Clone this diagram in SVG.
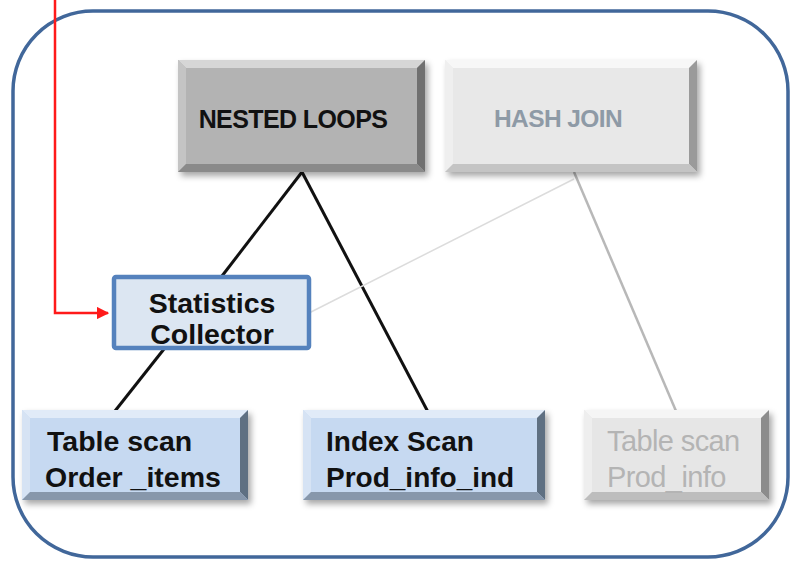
<svg xmlns="http://www.w3.org/2000/svg" width="794" height="562" viewBox="0 0 794 562">
<style>
.t{font-family:"Liberation Sans",Arial,sans-serif;font-weight:bold}
.dk{fill:#111}
.gy{fill:#8e9aa6}
.lg{fill:#b4b4b4;font-weight:normal}
</style>
<defs>
<filter id="sh" x="-10%" y="-10%" width="130%" height="140%">
<feDropShadow dx="3" dy="4" stdDeviation="3" flood-color="#000" flood-opacity="0.35"/>
</filter>
<marker id="ar" viewBox="0 0 10 10" refX="9" refY="5" markerWidth="5" markerHeight="5" orient="auto">
<path d="M0,0 L10,5 L0,10 z" fill="#ff1a1a"/>
</marker>
</defs>
<rect width="794" height="562" fill="#fff"/>
<rect x="13" y="11" width="775" height="546" rx="80" ry="80" fill="none" stroke="#41679a" stroke-width="3.5"/>

<g id="connectors">
<path d="M55,0 V313 H108" fill="none" stroke="#ff1a1a" stroke-width="2.5" marker-end="url(#ar)"/>
<line x1="302" y1="172" x2="222" y2="276" stroke="#111" stroke-width="3"/>
<line x1="302" y1="172" x2="428" y2="412" stroke="#111" stroke-width="3"/>
<line x1="164" y1="349" x2="115" y2="411" stroke="#111" stroke-width="3"/>
<line x1="574" y1="179" x2="309" y2="313" stroke="#dcdcdc" stroke-width="1.5"/>
<line x1="574" y1="172" x2="676" y2="411" stroke="#b8b8b8" stroke-width="2.5"/>
</g>

<g id="nested-loops">
<g filter="url(#sh)">
<rect x="178" y="60" width="247" height="112" fill="#b3b3b3"/>
<polygon points="178,60 425,60 417,68 186,68" fill="#d6d6d6"/>
<polygon points="178,60 186,68 186,164 178,172" fill="#c4c4c4"/>
<polygon points="425,60 425,172 417,164 417,68" fill="#6f6f6f"/>
<polygon points="178,172 425,172 417,164 186,164" fill="#8a8a8a"/>
</g>
<text x="293" y="128" text-anchor="middle" class="t dk" font-size="25" letter-spacing="-0.6">NESTED LOOPS</text>
</g>

<g id="hash-join">
<g filter="url(#sh)">
<rect x="445" y="60" width="252" height="112" fill="#e8e8e8"/>
<polygon points="445,60 697,60 689,68 453,68" fill="#f7f7f7"/>
<polygon points="445,60 453,68 453,164 445,172" fill="#efefef"/>
<polygon points="697,60 697,172 689,164 689,68" fill="#9a9a9a"/>
<polygon points="445,172 697,172 689,164 453,164" fill="#c4c4c4"/>
</g>
<text x="558" y="127" text-anchor="middle" class="t gy" font-size="24.5" letter-spacing="-0.6">HASH JOIN</text>
</g>

<g id="statistics-collector">
<rect x="114" y="277" width="195" height="71" fill="#dce6f2" stroke="#5582bd" stroke-width="4.5" rx="2"/>
<text x="212" y="313" text-anchor="middle" class="t dk" font-size="28.5">Statistics</text>
<text x="212" y="344" text-anchor="middle" class="t dk" font-size="28.5">Collector</text>
</g>

<g id="table-scan-order-items">
<g filter="url(#sh)">
<rect x="22" y="410" width="226" height="90" fill="#c6d9f1"/>
<polygon points="22,410 248,410 240,418 30,418" fill="#e1ebf8"/>
<polygon points="22,410 30,418 30,492 22,500" fill="#d6e3f4"/>
<polygon points="248,410 248,500 240,492 240,418" fill="#5f6f82"/>
<polygon points="22,500 248,500 240,492 30,492" fill="#8797ab"/>
</g>
<text x="47" y="451" class="t dk" font-size="28.5">Table scan</text>
<text x="45" y="487" class="t dk" font-size="28.5">Order _items</text>
</g>

<g id="index-scan">
<g filter="url(#sh)">
<rect x="303" y="410" width="242" height="90" fill="#c6d9f1"/>
<polygon points="303,410 545,410 537,418 311,418" fill="#e1ebf8"/>
<polygon points="303,410 311,418 311,492 303,500" fill="#d6e3f4"/>
<polygon points="545,410 545,500 537,492 537,418" fill="#5f6f82"/>
<polygon points="303,500 545,500 537,492 311,492" fill="#8797ab"/>
</g>
<text x="326" y="451" class="t dk" font-size="28">Index Scan</text>
<text x="326" y="487" class="t dk" font-size="28">Prod_info_ind</text>
</g>

<g id="table-scan-prod-info">
<g filter="url(#sh)">
<rect x="584" y="410" width="185" height="90" fill="#e6e6e6"/>
<polygon points="584,410 769,410 761,418 592,418" fill="#f5f5f5"/>
<polygon points="584,410 592,418 592,492 584,500" fill="#eeeeee"/>
<polygon points="769,410 769,500 761,492 761,418" fill="#8c8c8c"/>
<polygon points="584,500 769,500 761,492 592,492" fill="#bdbdbd"/>
</g>
<text x="607" y="451" class="t lg" font-size="29" letter-spacing="-0.6">Table scan</text>
<text x="607" y="487" class="t lg" font-size="29" letter-spacing="-0.6">Prod_info</text>
</g>
</svg>
